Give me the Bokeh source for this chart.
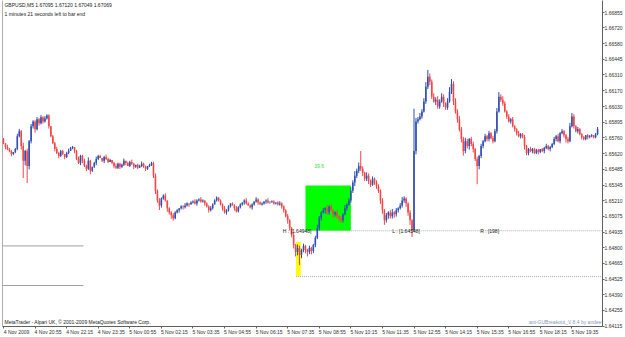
from bokeh.plotting import figure
from bokeh.models import Range1d, FixedTicker, Span, Label, PrintfTickFormatter, ColumnDataSource
from bokeh.embed import file_html
from bokeh.resources import INLINE

# ---- data (GBPUSD M5) ----
open0 = 1.65749
closes = [
    1.65714, 1.65680, 1.65662, 1.65645, 1.65619, 1.65636, 1.65662, 1.65775, 1.65818, 1.65688,
    1.65559, 1.65645, 1.65515, 1.65731, 1.65861, 1.65904, 1.65835, 1.65922, 1.65887, 1.65939,
    1.65904, 1.65930, 1.65956, 1.65861, 1.65775, 1.65714, 1.65662, 1.65628, 1.65602, 1.65645,
    1.65619, 1.65593, 1.65628, 1.65645, 1.65671, 1.65680, 1.65645, 1.65576, 1.65541, 1.65602,
    1.65559, 1.65515, 1.65490, 1.65559, 1.65472, 1.65507, 1.65541, 1.65576, 1.65602, 1.65585,
    1.65559, 1.65593, 1.65576, 1.65550, 1.65567, 1.65541, 1.65515, 1.65498, 1.65533, 1.65507,
    1.65524, 1.65559, 1.65541, 1.65515, 1.65550, 1.65533, 1.65507, 1.65524, 1.65498, 1.65515,
    1.65533, 1.65507, 1.65490, 1.65515, 1.65524, 1.65541, 1.65429, 1.65299, 1.65213, 1.65170,
    1.65230, 1.65256, 1.65213, 1.65144, 1.65109, 1.65083, 1.65058, 1.65109, 1.65127, 1.65144,
    1.65161, 1.65153, 1.65170, 1.65187, 1.65178, 1.65196, 1.65204, 1.65187, 1.65213, 1.65222,
    1.65204, 1.65213, 1.65187, 1.65161, 1.65127, 1.65144, 1.65178, 1.65213, 1.65239, 1.65213,
    1.65178, 1.65144, 1.65109, 1.65127, 1.65161, 1.65187, 1.65170, 1.65144, 1.65118, 1.65153,
    1.65178, 1.65196, 1.65213, 1.65187, 1.65170, 1.65153, 1.65178, 1.65204, 1.65222, 1.65196,
    1.65178, 1.65187, 1.65204, 1.65213, 1.65196, 1.65196, 1.65204, 1.65187, 1.65196, 1.65178,
    1.65187, 1.65161, 1.65127, 1.65075, 1.65040, 1.64971, 1.64911, 1.64824, 1.64764, 1.64798,
    1.64738, 1.64781, 1.64816, 1.64781, 1.64764, 1.64798, 1.64772, 1.64824, 1.64885, 1.64971,
    1.65058, 1.65109, 1.65127, 1.65144, 1.65109, 1.65161, 1.65127, 1.65092, 1.65109, 1.65075,
    1.65058, 1.65040, 1.65092, 1.65144, 1.65178, 1.65213, 1.65299, 1.65369, 1.65429, 1.65472,
    1.65515, 1.65490, 1.65455, 1.65403, 1.65429, 1.65386, 1.65351, 1.65403, 1.65369, 1.65334,
    1.65299, 1.65213, 1.65127, 1.65040, 1.65083, 1.65109, 1.65075, 1.65109, 1.65092, 1.65127,
    1.65144, 1.65170, 1.65213, 1.65230, 1.65187, 1.65109, 1.65040, 1.64954, 1.65645, 1.65904,
    1.65922, 1.65947, 1.65991, 1.66077, 1.66207, 1.66293, 1.66250, 1.66120, 1.66077, 1.66094,
    1.66034, 1.66077, 1.66120, 1.66060, 1.66025, 1.66077, 1.66163, 1.66233, 1.66077, 1.65991,
    1.65922, 1.65835, 1.65749, 1.65645, 1.65731, 1.65688, 1.65749, 1.65706, 1.65662, 1.65576,
    1.65515, 1.65602, 1.65688, 1.65731, 1.65775, 1.65749, 1.65801, 1.65757, 1.65731, 1.65818,
    1.65991, 1.66120, 1.66094, 1.66060, 1.65991, 1.65947, 1.65904, 1.65922, 1.65861, 1.65835,
    1.65801, 1.65775, 1.65792, 1.65766, 1.65688, 1.65628, 1.65662, 1.65645, 1.65662, 1.65628,
    1.65654, 1.65636, 1.65662, 1.65645, 1.65671, 1.65688, 1.65662, 1.65680, 1.65706, 1.65749,
    1.65775, 1.65731, 1.65801, 1.65818, 1.65783, 1.65749, 1.65731, 1.65861, 1.65947, 1.65861,
    1.65818, 1.65835, 1.65792, 1.65766, 1.65749, 1.65783, 1.65766, 1.65775, 1.65783, 1.65766,
    1.65792, 1.65835,
]
# upper / lower shadow lengths in pips
wick_up = [
    1, 0, 2, 1, 1, 0, 1, 2, 2, 1,  3, 1, 2, 1, 2, 1, 1, 2, 1, 2,
    1, 2, 1, 1, 0, 1, 1, 2, 1, 1,  1, 0, 1, 2, 1, 1, 0, 1, 2, 1,
    1, 2, 1, 3, 1, 0, 1, 2, 1, 1,  0, 1, 2, 1, 1, 0, 1, 2, 1, 1,
    1, 2, 0, 1, 1, 2, 1, 0, 1, 1,  2, 1, 1, 0, 1, 1, 1, 2, 1, 2,
    1, 1, 2, 0, 1, 1, 2, 1, 1, 0,  1, 1, 2, 1, 0, 1, 1, 2, 1, 1,
    2, 1, 0, 1, 1, 2, 1, 1, 1, 0,  1, 1, 2, 1, 1, 0, 1, 1, 2, 1,
    1, 0, 1, 2, 1, 1, 1, 0, 2, 1,  1, 1, 0, 1, 2, 1, 1, 1, 0, 1,
    2, 1, 1, 1, 2, 1, 1, 2, 1, 3,  2, 1, 2, 1, 1, 2, 1, 1, 2, 3,
    2, 1, 2, 1, 3, 1, 2, 1, 1, 2,  1, 2, 1, 3, 1, 2, 3, 2, 4, 2,
    3, 13, 2, 1, 3, 2, 1, 2, 1, 2, 2, 1, 2, 1, 2, 1, 2, 3, 1, 2,
    1, 2, 3, 2, 1, 1, 2, 1, 37, 3, 2, 3, 2, 3, 4, 6, 3, 2, 3, 2,
    3, 2, 3, 2, 1, 3, 4, 4, 2, 3,  2, 3, 2, 2, 3, 2, 1, 2, 2, 1,
    2, 1, 2, 1, 2, 1, 2, 1, 2, 2,  3, 4, 2, 3, 2, 1, 2, 1, 2, 1,
    1, 2, 1, 1, 2, 1, 1, 2, 1, 1,  1, 1, 0, 1, 1, 2, 1, 1, 1, 2,
    1, 2, 1, 2, 1, 1, 2, 3, 3, 2,  1, 2, 1, 1, 1, 0, 1, 1, 1, 0,
    1, 2,
]
wick_dn = [
    1, 2, 1, 1, 2, 1, 1, 1, 1, 3,  15, 4, 15, 3, 2, 2, 3, 1, 2, 1,
    2, 1, 1, 2, 1, 1, 2, 1, 2, 1,  1, 2, 1, 1, 0, 1, 2, 1, 1, 2,
    2, 1, 2, 1, 3, 1, 1, 2, 1, 0,  1, 2, 1, 1, 0, 1, 2, 1, 1, 2,
    1, 1, 2, 0, 1, 1, 2, 1, 1, 0,  1, 1, 2, 1, 1, 1, 2, 3, 2, 4,
    2, 1, 1, 3, 2, 3, 2, 1, 1, 2,  1, 2, 1, 1, 2, 0, 1, 1, 2, 1,
    1, 1, 2, 1, 2, 1, 1, 0, 1, 1,  1, 2, 1, 2, 1, 1, 0, 2, 1, 1,
    1, 1, 2, 1, 0, 1, 2, 1, 1, 2,  0, 1, 1, 2, 1, 1, 0, 1, 1, 1,
    1, 2, 2, 1, 3, 2, 2, 3, 4, 3,  9, 3, 2, 3, 4, 2, 3, 2, 2, 1,
    2, 2, 1, 3, 2, 2, 1, 3, 2, 2,  3, 2, 2, 1, 2, 1, 2, 2, 3, 2,
    2, 2, 3, 2, 2, 3, 2, 1, 2, 2,  2, 3, 3, 4, 2, 3, 2, 2, 3, 2,
    2, 1, 2, 2, 3, 3, 4, 6, 1, 3,  2, 1, 2, 1, 2, 2, 3, 2, 1, 3,
    2, 2, 1, 3, 2, 2, 1, 2, 3, 2,  3, 2, 3, 4, 2, 2, 3, 2, 3, 2,
    16, 3, 2, 2, 1, 2, 2, 1, 2, 1, 2, 1, 2, 2, 1, 2, 1, 2, 1, 2,
    2, 1, 2, 1, 3, 2, 2, 1, 2, 1,  1, 2, 1, 1, 2, 1, 1, 2, 1, 1,
    2, 1, 2, 1, 2, 3, 2, 1, 1, 2,  1, 2, 1, 2, 1, 1, 2, 1, 1, 1,
    1, 1,
]

price_ticks = [1.66855, 1.66720, 1.66580, 1.66445, 1.66310, 1.66170, 1.66030,
               1.65895, 1.65760, 1.65620, 1.65485, 1.65345, 1.65210, 1.65075,
               1.64935, 1.64800, 1.64665, 1.64525, 1.64390, 1.64255, 1.64115]
time_tick_bars = [0, 16, 32, 48, 64, 80, 96, 112, 128, 144, 160, 176, 192, 208,
                  224, 240, 256, 272, 288, 304]
time_tick_labels = ["4 Nov 2009", "4 Nov 20:55", "4 Nov 22:15", "4 Nov 23:35",
                    "5 Nov 00:55", "5 Nov 02:15", "5 Nov 03:35", "5 Nov 04:55",
                    "5 Nov 06:15", "5 Nov 07:35", "5 Nov 08:55", "5 Nov 10:15",
                    "5 Nov 11:35", "5 Nov 12:55", "5 Nov 14:15", "5 Nov 15:35",
                    "5 Nov 16:55", "5 Nov 18:15", "5 Nov 19:35", "5 Nov 20:55"]

# breakout indicator values
level_H = 1.64948
level_L = 1.64548
box_top = 1.65343
box_bars = (153, 176)
signal_bar = (148.2, 150.6)
signal_top = 1.64850
prev_levels = [1.64816, 1.64470]
prev_level_bars = (-0.5, 40.5)
box_label = "39.6"

# ---- build ----
n = len(closes)
opens = [open0] + closes[:-1]
highs = [max(o, c) + u * 0.0001 for o, c, u in zip(opens, closes, wick_up)]
lows = [min(o, c) - d * 0.0001 for o, c, d in zip(opens, closes, wick_dn)]
idx = list(range(n))
BULL, BEAR = "#2f4fb4", "#f24646"
colors = [BULL if c >= o else BEAR for o, c in zip(opens, closes)]
src = ColumnDataSource(dict(x=idx, o=opens, c=closes, h=highs, l=lows, col=colors,
                            top=[max(o, c) for o, c in zip(opens, closes)],
                            bot=[min(o, c) for o, c in zip(opens, closes)]))

FONT = "Liberation Sans"
FS = "5px"

p = figure(width=625, height=337, output_backend="svg", toolbar_location=None,
           x_range=Range1d(-0.5, 303.5), y_range=Range1d(1.64112, 1.66960),
           y_axis_location="right",
           min_border_left=2, min_border_right=0, min_border_top=0, min_border_bottom=0)
p.background_fill_color = "white"
p.border_fill_color = "white"
p.outline_line_color = None
p.grid.visible = False

# indicator drawings
p.quad(left=[box_bars[0]], right=[box_bars[1]], top=[box_top], bottom=[level_H],
       fill_color="#00ff00", line_color=None)
p.quad(left=[signal_bar[0]], right=[signal_bar[1]], top=[signal_top], bottom=[level_L],
       fill_color="#ffff00", line_color=None)
p.segment(x0=[signal_bar[1], signal_bar[0]], x1=[304, 304], y0=[level_H, level_L],
          y1=[level_H, level_L], line_color="#b0b0b0", line_dash="1 1", line_width=1)
p.segment(x0=[prev_level_bars[0]] * 2, x1=[prev_level_bars[1]] * 2, y0=prev_levels,
          y1=prev_levels, line_color="#a0a0a0", line_width=1)

# candles
p.segment(x0="x", x1="x", y0="l", y1="h", line_color="col", line_width=1, source=src)
p.vbar(x="x", width=0.8, top="top", bottom="bot", fill_color="col", line_color=None, source=src)

p.add_layout(Span(location=-0.5, dimension="height", line_color="#606060", line_width=1))

# axes: time labels sit to the right of their tick mark (minor ticks mark the bar)
LABEL_SHIFT = 6.6
xa = p.xaxis[0]
xa.ticker = FixedTicker(ticks=[t + LABEL_SHIFT for t in time_tick_bars],
                        minor_ticks=time_tick_bars)
xa.major_label_overrides = {t + LABEL_SHIFT: s for t, s in zip(time_tick_bars, time_tick_labels)}
xa.major_tick_line_color = None
xa.minor_tick_line_color = "#606060"
xa.minor_tick_in = 0
xa.minor_tick_out = 2
ya = p.yaxis[0]
ya.ticker = FixedTicker(ticks=price_ticks)
ya.formatter = PrintfTickFormatter(format="%.5f")
ya.major_tick_line_color = "#606060"
ya.minor_tick_line_color = None
for ax in (xa, ya):
    ax.major_label_text_font = FONT
    ax.major_label_text_font_size = FS
    ax.major_label_text_color = "#303030"
    ax.axis_line_color = "#606060"
    ax.major_tick_in = 0
    ax.major_tick_out = 2
    ax.major_label_standoff = 0

def lab(x, y, t, color="#202020", align="left", base="top"):
    p.add_layout(Label(x=x, y=y, text=t, text_font=FONT, text_font_size=FS,
                       text_color=color, text_align=align, text_baseline=base))

lab(0.5, 1.66943, "GBPUSD,M5  1.67095 1.67120 1.67049 1.67069")
lab(0.5, 1.66872, "1 minutes 21 seconds left to bar end")
lab(0.5, 1.64125, "MetaTrader - Alpari UK, \u00a9 2001-2009 MetaQuotes Software Corp.", base="bottom")
lab(303.0, 1.64125, "ant-GUBreakout_V 8.4 by andee", color="#8a98b8", align="right", base="bottom")
lab(141.5, level_H, "H : [1.64948]", base="middle")
lab(197.0, level_H, "L : [1.64548]", base="middle")
lab(241.5, level_H, "R : [198]", base="middle")
lab(157.5, 1.65517, box_label, color="#33dd33", base="middle")

open("out.html", "w").write(file_html(p, INLINE))
